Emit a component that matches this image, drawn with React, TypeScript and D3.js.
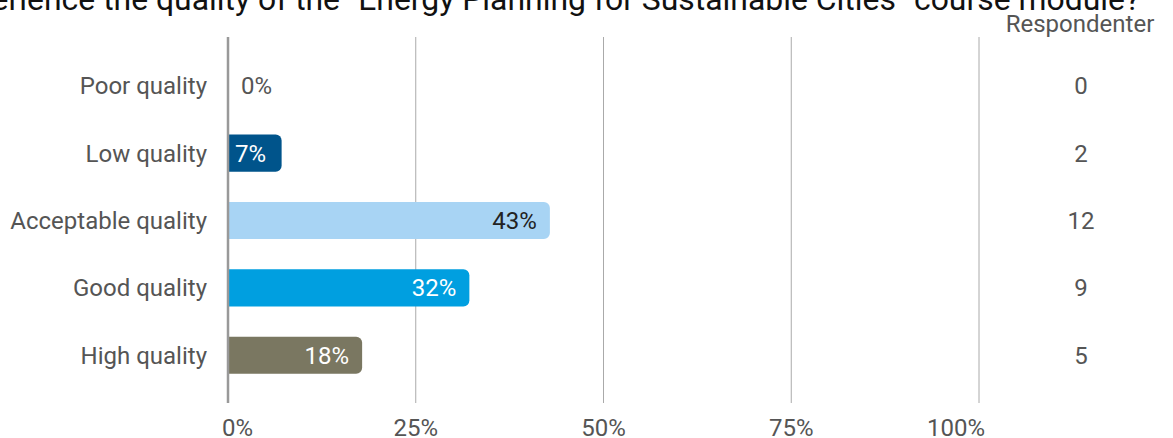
import React from "react";
import * as d3 from "d3";

const title = "How did you experience the quality of the \"Energy Planning for Sustainable Cities\" course module?";
const categories = ["Poor quality", "Low quality", "Acceptable quality", "Good quality", "High quality"];
const percents = [0, 7.14, 42.86, 32.14, 17.86];
const counts = [0, 2, 12, 9, 5];
const percentLabels = ["0%", "7%", "43%", "32%", "18%"];
const barColors = ["#00548b", "#00548b", "#a8d4f4", "#009fe0", "#7a7761"];
const labelColors = ["#555555", "#ffffff", "#222222", "#ffffff", "#ffffff"];
const ticks = [0, 25, 50, 75, 100];
const tickLabels = ["0%", "25%", "50%", "75%", "100%"];
const countHeader = "Respondenter";

export default function App() {
  const W = 1173, H = 438;
  const x = d3.scaleLinear().domain([0, 100]).range([228, 979]);
  const y = d3.scaleBand().domain(categories).range([52, 389]).paddingInner(0.45).paddingOuter(0.225);
  const bh = y.bandwidth();
  const font = "Roboto, 'Noto Sans', sans-serif";
  return (
    <svg width={W} height={H} style={{ position: "absolute", left: 0, top: 0 }} fontFamily={font}>
      <rect width={W} height={H} fill="#fff" />
      <text x={1140} y={10} textAnchor="end" fontSize={31.9} fill="#111">{title}</text>
      <text x={1080} y={32} textAnchor="middle" fontSize={24} fill="#555">{countHeader}</text>
      {ticks.slice(1).map((t) => (
        <line key={t} x1={x(t)} x2={x(t)} y1={37} y2={403} stroke="#aaaaaa" strokeWidth={1} />
      ))}
      {categories.map((c, i) => {
        const w = x(percents[i]) - x(0);
        const yc = (y(c) as number) + bh / 2;
        const r = 6;
        const x0 = x(0);
        const top = y(c) as number;
        const path = w > 0
          ? `M${x0},${top} H${x0 + w - r} A${r},${r} 0 0 1 ${x0 + w},${top + r} V${top + bh - r} A${r},${r} 0 0 1 ${x0 + w - r},${top + bh} H${x0} Z`
          : "";
        return (
          <g key={c}>
            {w > 0 && <path d={path} fill={barColors[i]} />}
            <text x={207} y={yc} dy="0.35em" textAnchor="end" fontSize={24} fill="#555">{c}</text>
            <text
              x={w > 60 ? x0 + w - 13 : x0 + (w > 0 ? 7 : 13)}
              y={yc}
              dy="0.35em"
              textAnchor={w > 60 ? "end" : "start"}
              fontSize={24}
              fill={labelColors[i]}
            >{percentLabels[i]}</text>
            <text x={1081} y={yc} dy="0.35em" textAnchor="middle" fontSize={24} fill="#555">{counts[i]}</text>
          </g>
        );
      })}
      <line x1={x(0)} x2={x(0)} y1={37} y2={403} stroke="#999999" strokeWidth={2.5} />
      {ticks.map((t, i) => (
        <text
          key={t}
          x={i === 0 ? x(t) - 6 : i === ticks.length - 1 ? x(t) + 6 : x(t)}
          y={436}
          textAnchor={i === 0 ? "start" : i === ticks.length - 1 ? "end" : "middle"}
          fontSize={24}
          fill="#555"
        >{tickLabels[i]}</text>
      ))}
    </svg>
  );
}
